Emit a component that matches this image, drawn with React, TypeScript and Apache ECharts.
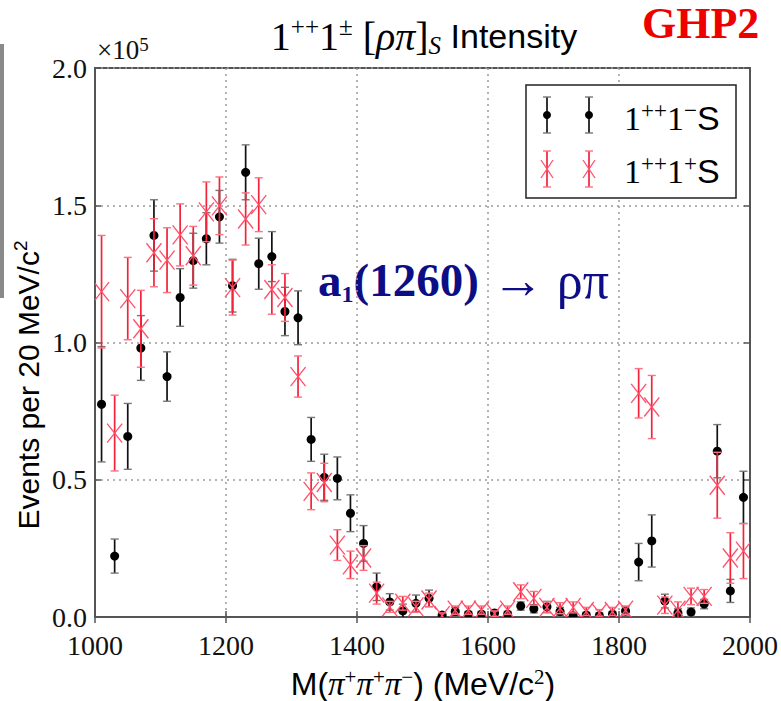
import React, { useEffect, useRef } from "react";
import * as echarts from "echarts";

// Bin centres (MeV/c^2)
const massBins = [
  1010, 1030, 1050, 1070, 1090, 1110, 1130, 1150, 1170, 1190,
  1210, 1230, 1250, 1270, 1290, 1310, 1330, 1350, 1370, 1390,
  1410, 1430, 1450, 1470, 1490, 1510, 1530, 1550, 1570, 1590,
  1610, 1630, 1650, 1670, 1690, 1710, 1730, 1750, 1770, 1790,
  1810, 1830, 1850, 1870, 1890, 1910, 1930, 1950, 1970, 1990,
];

// 1++1-S intensity (x 10^5 events)
const minusS = [
  0.775, 0.222, 0.658, 0.98, 1.39, 0.876, 1.164, 1.298, 1.378, 1.458,
  1.207, 1.62, 1.287, 1.313, 1.113, 1.09, 0.647, 0.509, 0.505, 0.378,
  0.268, 0.11, 0.055, 0.022, 0.05, 0.068, 0.007, 0.02, 0.01, 0.01,
  0.015, 0.01, 0.04, 0.03, 0.037, 0.02, 0.005, 0.007, 0.005, 0.01,
  0.022, 0.2, 0.277, 0.058, 0.015, 0.018, 0.047, 0.604, 0.095, 0.436,
];
const minusSErr = [
  0.21, 0.062, 0.12, 0.118, 0.13, 0.09, 0.105, 0.1, 0.095, 0.096,
  0.096, 0.1, 0.093, 0.091, 0.088, 0.098, 0.08, 0.084, 0.078, 0.067,
  0.065, 0.05, 0.03, 0.025, 0.03, 0.03, 0.01, 0.015, 0.01, 0.01,
  0.01, 0.01, 0.015, 0.015, 0.02, 0.015, 0.01, 0.01, 0.01, 0.01,
  0.015, 0.068, 0.095, 0.025, 0.015, 0.015, 0.017, 0.097, 0.042, 0.095,
];

// 1++1+S intensity (x 10^5 events)
const plusS = [
  1.185, 0.67, 1.16, 1.05, 1.327, 1.3, 1.392, 1.316, 1.476, 1.498,
  1.2, 1.45, 1.502, 1.193, 1.164, 0.876, 0.458, 0.49, 0.262, 0.19,
  0.215, 0.087, 0.037, 0.05, 0.037, 0.062, 0.005, 0.025, 0.025, 0.025,
  0.012, 0.025, 0.092, 0.068, 0.035, 0.032, 0.035, 0.02, 0.015, 0.02,
  0.025, 0.815, 0.765, 0.043, 0.025, 0.075, 0.075, 0.48, 0.215, 0.24,
];
const plusSErr = [
  0.205, 0.138, 0.15, 0.14, 0.124, 0.118, 0.113, 0.107, 0.109, 0.105,
  0.1, 0.095, 0.098, 0.09, 0.087, 0.075, 0.067, 0.07, 0.056, 0.05,
  0.045, 0.04, 0.02, 0.025, 0.02, 0.025, 0.01, 0.015, 0.015, 0.015,
  0.01, 0.015, 0.025, 0.025, 0.02, 0.02, 0.02, 0.015, 0.012, 0.015,
  0.015, 0.09, 0.115, 0.03, 0.03, 0.03, 0.025, 0.12, 0.092, 0.1,
];

const xTicks = [1000, 1200, 1400, 1600, 1800, 2000];
const yTicks = [0.0, 0.5, 1.0, 1.5, 2.0];

const SERIF = "Liberation Serif";
const SANS = "Liberation Sans";

const BLACK_BAR = "#111111";
const BLACK_CAP = "#777777";
const RED_BAR = "#f2233a";
const RED_CAP = "#ff7080";
const RED_X = "#ff4f6a";

function errRender(kind: "dot" | "cross") {
  return (_params: any, api: any) => {
    const x = api.value(0);
    const y = api.value(1);
    const e = api.value(2);
    const p = api.coord([x, y]);
    const pt = api.coord([x, y + e]);
    const pb = api.coord([x, y - e]);
    const cap = 4;
    const barColor = kind === "dot" ? BLACK_BAR : RED_BAR;
    const capColor = kind === "dot" ? BLACK_CAP : RED_CAP;
    const children: any[] = [
      { type: "line", shape: { x1: p[0], y1: pt[1], x2: p[0], y2: pb[1] }, style: { stroke: barColor, lineWidth: 1.7 } },
      { type: "line", shape: { x1: p[0] - cap, y1: pt[1], x2: p[0] + cap, y2: pt[1] }, style: { stroke: capColor, lineWidth: 1.4 } },
      { type: "line", shape: { x1: p[0] - cap, y1: pb[1], x2: p[0] + cap, y2: pb[1] }, style: { stroke: capColor, lineWidth: 1.4 } },
    ];
    if (kind === "dot") {
      children.push({ type: "circle", shape: { cx: p[0], cy: p[1], r: 4.5 }, style: { fill: "#000" } });
    } else {
      const w = 7.5, h = 9.5;
      children.push({ type: "line", shape: { x1: p[0] - w, y1: p[1] - h, x2: p[0] + w, y2: p[1] + h }, style: { stroke: RED_X, lineWidth: 1.3 } });
      children.push({ type: "line", shape: { x1: p[0] - w, y1: p[1] + h, x2: p[0] + w, y2: p[1] - h }, style: { stroke: RED_X, lineWidth: 1.3 } });
    }
    return { type: "group", children };
  };
}

function legendMarker(cx: number, cy: number, kind: "dot" | "cross"): any[] {
  const top = cy - 18, bot = cy + 18;
  const bar = kind === "dot" ? BLACK_BAR : RED_BAR;
  const capc = kind === "dot" ? BLACK_CAP : RED_CAP;
  const els: any[] = [
    { type: "line", z: 101, shape: { x1: cx, y1: top, x2: cx, y2: bot }, style: { stroke: bar, lineWidth: 1.7 } },
    { type: "line", z: 101, shape: { x1: cx - 4, y1: top, x2: cx + 4, y2: top }, style: { stroke: capc, lineWidth: 1.4 } },
    { type: "line", z: 101, shape: { x1: cx - 4, y1: bot, x2: cx + 4, y2: bot }, style: { stroke: capc, lineWidth: 1.4 } },
  ];
  if (kind === "dot") {
    els.push({ type: "circle", z: 102, shape: { cx, cy, r: 4 }, style: { fill: "#000" } });
  } else {
    els.push({ type: "line", z: 102, shape: { x1: cx - 6, y1: cy - 9, x2: cx + 6, y2: cy + 9 }, style: { stroke: RED_X, lineWidth: 1.3 } });
    els.push({ type: "line", z: 102, shape: { x1: cx - 6, y1: cy + 9, x2: cx + 6, y2: cy - 9 }, style: { stroke: RED_X, lineWidth: 1.3 } });
  }
  return els;
}

const legendRich = {
  n: { fontFamily: SERIF, fontSize: 34, lineHeight: 38, verticalAlign: "middle", fill: "#000" },
  sup: { fontFamily: SERIF, fontSize: 23, lineHeight: 15, verticalAlign: "top", fill: "#000" },
  s: { fontFamily: SANS, fontSize: 34, lineHeight: 38, verticalAlign: "middle", fill: "#000" },
};

export default function App() {
  const ref = useRef<HTMLDivElement>(null);

  useEffect(() => {
    if (!ref.current) return;
    const chart = echarts.init(ref.current, undefined, { renderer: "svg" });

    const minusData = massBins.map((m, i) => [m, minusS[i], minusSErr[i]]);
    const plusData = massBins.map((m, i) => [m, plusS[i], plusSErr[i]]);

    const gridLine = { show: true, lineStyle: { color: "#9a9a9a", width: 1.5, type: [2, 4] as any } };
    const frameLine = { show: true, lineStyle: { color: "#555", width: 2 } };
    const innerTick = { show: true, inside: true, length: 6, lineStyle: { color: "#555", width: 1.5 } };

    const option: any = {
      animation: false,
      backgroundColor: "#ffffff",
      grid: { left: 95, right: 29, top: 68, bottom: 84, show: true, borderColor: "#555", borderWidth: 2, backgroundColor: "transparent" },
      xAxis: [
        {
          type: "value",
          min: xTicks[0],
          max: xTicks[xTicks.length - 1],
          interval: xTicks[1] - xTicks[0],
          axisLine: frameLine,
          axisTick: innerTick,
          splitLine: gridLine,
          axisLabel: {
            fontFamily: SERIF, fontSize: 28, color: "#111", margin: 14,
            showMinLabel: true, showMaxLabel: true,
            formatter: (v: number) => String(v),
          },
        },
        {
          type: "value",
          position: "top",
          min: xTicks[0],
          max: xTicks[xTicks.length - 1],
          interval: xTicks[1] - xTicks[0],
          axisLine: frameLine,
          axisTick: innerTick,
          splitLine: { show: false },
          axisLabel: { show: false },
        },
      ],
      yAxis: [
        {
          type: "value",
          min: yTicks[0],
          max: yTicks[yTicks.length - 1],
          interval: yTicks[1] - yTicks[0],
          axisLine: frameLine,
          axisTick: innerTick,
          splitLine: gridLine,
          axisLabel: {
            fontFamily: SERIF, fontSize: 28, color: "#111", margin: 8,
            formatter: (v: number) => v.toFixed(1), showMinLabel: true, showMaxLabel: true,
          },
        },
        {
          type: "value",
          position: "right",
          min: yTicks[0],
          max: yTicks[yTicks.length - 1],
          interval: yTicks[1] - yTicks[0],
          axisLine: frameLine,
          axisTick: innerTick,
          splitLine: { show: false },
          axisLabel: { show: false },
        },
      ],
      series: [
        {
          name: "1++1-S",
          type: "custom",
          clip: true,
          renderItem: errRender("dot"),
          encode: { x: 0, y: 1 },
          data: minusData,
          z: 3,
        },
        {
          name: "1++1+S",
          type: "custom",
          clip: true,
          renderItem: errRender("cross"),
          encode: { x: 0, y: 1 },
          data: plusData,
          z: 4,
        },
      ],
      graphic: [
        // grey strip at the left edge
        { type: "rect", shape: { x: 0, y: 44, width: 4, height: 254 }, style: { fill: "#8a8a8a" } },
        // title
        {
          type: "text",
          x: 424,
          y: 36,
          style: {
            text: "{n|1}{sup|++}{n|1}{sup|±}{n| [}{i|ρπ}{n|]}{sub|S}{s| Intensity}",
            align: "center",
            verticalAlign: "middle",
            rich: {
              n: { fontFamily: SERIF, fontSize: 40, lineHeight: 44, verticalAlign: "middle", fill: "#000" },
              sup: { fontFamily: SERIF, fontSize: 25, lineHeight: 16, verticalAlign: "top", fill: "#000" },
              sub: { fontFamily: SERIF, fontSize: 25, fontStyle: "italic", lineHeight: 18, verticalAlign: "bottom", fill: "#000" },
              i: { fontFamily: SERIF, fontSize: 40, fontStyle: "italic", lineHeight: 44, verticalAlign: "middle", fill: "#000" },
              s: { fontFamily: SANS, fontSize: 34, lineHeight: 44, verticalAlign: "middle", fill: "#000" },
            },
          },
        },
        // GHP2
        {
          type: "text",
          x: 642,
          y: 23,
          style: { text: "GHP2", fontFamily: SERIF, fontWeight: "bold", fontSize: 44, fill: "#ee0000", align: "left", verticalAlign: "middle" },
        },
        // x10^5
        {
          type: "text",
          x: 97,
          y: 50,
          style: {
            text: "{n|×10}{sup|5}",
            align: "left",
            verticalAlign: "middle",
            rich: {
              n: { fontFamily: SERIF, fontSize: 27, lineHeight: 30, verticalAlign: "middle", fill: "#111" },
              sup: { fontFamily: SERIF, fontSize: 19, lineHeight: 12, verticalAlign: "top", fill: "#111" },
            },
          },
        },
        // annotation
        {
          type: "text",
          x: 318,
          y: 280,
          style: {
            text: "{b|a}{bs|1}{b|(1260)}{r| → ρπ}",
            align: "left",
            verticalAlign: "middle",
            rich: {
              b: { fontFamily: SERIF, fontWeight: "bold", fontSize: 47, lineHeight: 52, verticalAlign: "middle", fill: "#0d0d85" },
              bs: { fontFamily: SERIF, fontWeight: "bold", fontSize: 24, lineHeight: 22, verticalAlign: "bottom", fill: "#0d0d85" },
              r: { fontFamily: SERIF, fontSize: 52, lineHeight: 52, verticalAlign: "middle", fill: "#0d0d85" },
            },
          },
        },
        // x axis name
        {
          type: "text",
          x: 423,
          y: 684,
          style: {
            text: "{s|M(}{i|π}{sup|+}{i|π}{sup|+}{i|π}{sup|−}{s|) (MeV/c}{sup|2}{s|)}",
            align: "center",
            verticalAlign: "middle",
            rich: {
              s: { fontFamily: SANS, fontSize: 32, lineHeight: 36, verticalAlign: "middle", fill: "#000" },
              i: { fontFamily: SERIF, fontStyle: "italic", fontSize: 33, lineHeight: 36, verticalAlign: "middle", fill: "#000" },
              sup: { fontFamily: SERIF, fontSize: 21, lineHeight: 14, verticalAlign: "top", fill: "#000" },
            },
          },
        },
        // y axis name
        {
          type: "text",
          x: 28,
          y: 385,
          rotation: Math.PI / 2,
          style: {
            text: "{s|Events per 20 MeV/c}{sup|2}",
            align: "center",
            verticalAlign: "middle",
            rich: {
              s: { fontFamily: SANS, fontSize: 30, lineHeight: 34, verticalAlign: "middle", fill: "#000" },
              sup: { fontFamily: SANS, fontSize: 19, lineHeight: 14, verticalAlign: "top", fill: "#000" },
            },
          },
        },
        // legend box
        { type: "rect", z: 100, shape: { x: 526, y: 85, width: 210, height: 113 }, style: { fill: "#fff", stroke: "#222", lineWidth: 1.5 } },
        ...legendMarker(547, 115, "dot"),
        ...legendMarker(589, 115, "dot"),
        ...legendMarker(547, 169, "cross"),
        ...legendMarker(589, 169, "cross"),
        {
          type: "text",
          z: 102,
          x: 624,
          y: 118,
          style: { text: "{n|1}{sup|++}{n|1}{sup|−}{s|S}", align: "left", verticalAlign: "middle", rich: legendRich },
        },
        {
          type: "text",
          z: 102,
          x: 624,
          y: 171,
          style: { text: "{n|1}{sup|++}{n|1}{sup|+}{s|S}", align: "left", verticalAlign: "middle", rich: legendRich },
        },
      ],
    };

    chart.setOption(option);
    return () => chart.dispose();
  }, []);

  return <div ref={ref} style={{ position: "fixed", left: 0, top: 0, width: 781, height: 701, background: "#fff" }} />;
}
